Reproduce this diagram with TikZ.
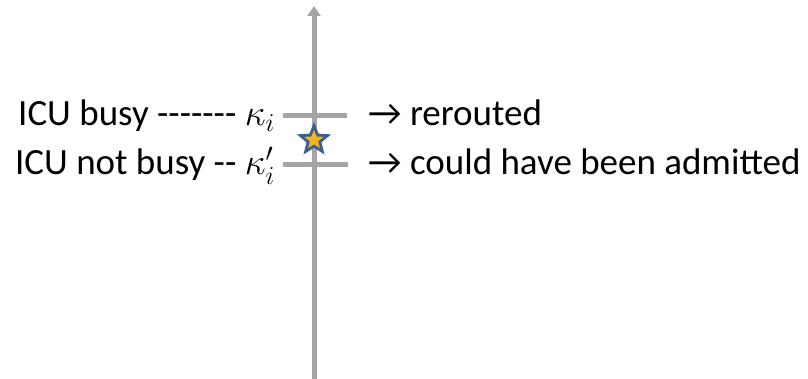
\RequirePackage{fix-cm}
\documentclass[tikz,border=0pt]{standalone}
\usepackage{fontspec}
\newfontfamily\calibri{Carlito}
\usepackage{tikz}
\usetikzlibrary{
  arrows.meta,
  shapes.geometric,
  positioning
}
\definecolor{axisgray}{RGB}{165,165,165}
\definecolor{starblue}{RGB}{62,94,140}
\definecolor{stargold}{RGB}{240,180,30}
\tikzset{
  axisline/.style={axisgray,line width=5},
  label/.style={font=\calibri\fontsize{37}{40}\selectfont,inner sep=0pt}
}

\begin{document}
\begin{tikzpicture}[x=1pt,y=-1pt]
  \useasboundingbox (0,0) rectangle (808,379);

  % time axis
  \coordinate (top) at (314,6);
  \coordinate (bottom) at (314,390);
  \draw[axisline,{Triangle[length=10,width=13]}-{Triangle[length=10,width=13]}]
    (bottom) -- (top);

  % kappa_i
  \coordinate (k1l) at (283,116);
  \coordinate (k1r) at (347,116);
  \draw[axisline] (k1l) -- (k1r);
  % kappa_i'
  \coordinate (k2l) at (283,165);
  \coordinate (k2r) at (348,165);
  \draw[axisline] (k2l) -- (k2r);

  % arrival
  \node[star,star points=5,star point ratio=2.3,minimum size=36,inner sep=0pt,
        fill=starblue] (arrival) at (314,140) {};
  \node[star,star points=5,star point ratio=2.3,minimum size=20,inner sep=0pt,
        fill=stargold] at (arrival) {};

  \node[label,anchor=base east] (busy) at (275,126) {ICU busy ------- $\kappa_i$};
  \node[label,anchor=base east] (notbusy) at (275,175) {ICU not busy -- $\kappa_i'$};

  \node[label,anchor=base west] (rerouted) at (368,126) {→ rerouted};
  \node[label,anchor=base west] (admitted) at (368,175) {→ could have been admitted};
\end{tikzpicture}
\end{document}
